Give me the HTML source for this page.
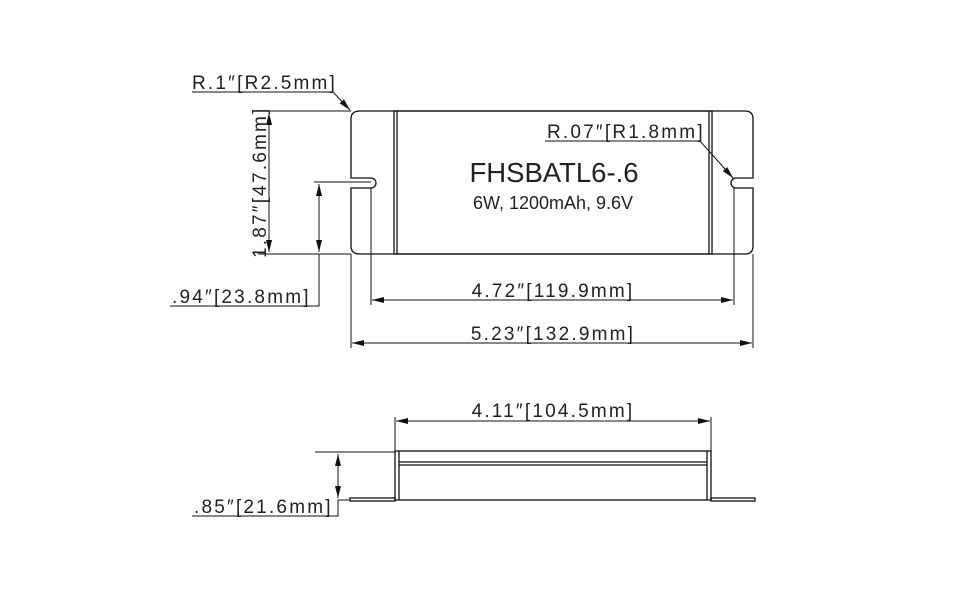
<!DOCTYPE html>
<html><head><meta charset="utf-8"><style>
html,body{margin:0;padding:0;background:#fff;}
svg{display:block}
.d{font-family:"Liberation Sans",sans-serif;font-size:19px;fill:#222;letter-spacing:2.2px}
</style></head><body>
<svg width="960" height="600" viewBox="0 0 960 600" xmlns="http://www.w3.org/2000/svg">
<defs>
<marker id="a" viewBox="0 0 12 6" refX="12" refY="3" markerWidth="12" markerHeight="6" orient="auto-start-reverse" markerUnits="userSpaceOnUse"><path d="M0,0 L12,3 L0,6z" fill="#111"/></marker>
</defs>
<g fill="none" stroke="#111" stroke-width="1.3">
<path d="M360,111 H745 Q753,111 753,119 V178 H736 A5,5 0 0 0 736,188 H753 V246 Q753,254 745,254 H360 Q351,254 351,246 V188 H371 A5,5 0 0 0 371,178 H351 V119 Q351,111 360,111 Z"/>
<rect x="394" y="111" width="318" height="143"/>
<line x1="397" y1="111" x2="397" y2="254"/>
<line x1="709" y1="111" x2="709" y2="254"/>
<line x1="258" y1="111" x2="351" y2="111" stroke-width="1"/>
<line x1="258" y1="254" x2="351" y2="254" stroke-width="1"/>
<line x1="269" y1="113" x2="269" y2="252" stroke-width="1" marker-start="url(#a)" marker-end="url(#a)"/>
<line x1="314" y1="182" x2="371" y2="182" stroke-width="1"/>
<line x1="319" y1="184" x2="319" y2="252" stroke-width="1" marker-start="url(#a)" marker-end="url(#a)"/>
<polyline points="170,306 319,306 319,254" stroke-width="1"/>
<polyline points="192,92 333,92 350,110" stroke-width="1" marker-end="url(#a)"/>
<polyline points="545,141 700,141 733,178" stroke-width="1" marker-end="url(#a)"/>
<line x1="371" y1="188" x2="371" y2="305" stroke-width="1"/>
<line x1="734" y1="188" x2="734" y2="305" stroke-width="1"/>
<line x1="372" y1="300" x2="733" y2="300" stroke-width="1" marker-start="url(#a)" marker-end="url(#a)"/>
<line x1="351" y1="254" x2="351" y2="348" stroke-width="1"/>
<line x1="753" y1="254" x2="753" y2="348" stroke-width="1"/>
<line x1="352" y1="343" x2="752" y2="343" stroke-width="1" marker-start="url(#a)" marker-end="url(#a)"/>
<line x1="395" y1="417" x2="395" y2="452" stroke-width="1"/>
<line x1="711" y1="417" x2="711" y2="452" stroke-width="1"/>
<line x1="396" y1="421" x2="710" y2="421" stroke-width="1" marker-start="url(#a)" marker-end="url(#a)"/>
<rect x="395" y="451" width="316" height="49"/>
<line x1="399" y1="451" x2="399" y2="500"/>
<line x1="707" y1="451" x2="707" y2="500"/>
<line x1="399" y1="462" x2="707" y2="462"/>
<line x1="399" y1="465" x2="707" y2="465"/>
<rect x="350" y="498" width="45" height="3"/>
<rect x="711" y="498" width="44" height="3"/>
<line x1="315" y1="452" x2="395" y2="452" stroke-width="1"/>
<line x1="338" y1="454" x2="338" y2="498" stroke-width="1" marker-start="url(#a)" marker-end="url(#a)"/>
<polyline points="192,516 338,516 338,500 350,500" stroke-width="1"/>
</g>
<text class="d" x="192" y="89">R.1″[R2.5mm]</text>
<text class="d" x="547" y="138">R.07″[R1.8mm]</text>
<text class="d" x="172" y="303">.94″[23.8mm]</text>
<text class="d" x="266" y="258" transform="rotate(-90 266 258)">1.87″[47.6mm]</text>
<text class="d" x="553" y="297" text-anchor="middle">4.72″[119.9mm]</text>
<text class="d" x="553" y="340" text-anchor="middle">5.23″[132.9mm]</text>
<text class="d" x="553" y="417" text-anchor="middle">4.11″[104.5mm]</text>
<text class="d" x="194" y="513">.85″[21.6mm]</text>
<text x="554" y="182" text-anchor="middle" font-family="Liberation Sans,sans-serif" font-size="27.5" fill="#222">FHSBATL6-.6</text>
<text x="553" y="209" text-anchor="middle" font-family="Liberation Sans,sans-serif" font-size="18" fill="#222">6W, 1200mAh, 9.6V</text>
</svg>
</body></html>
